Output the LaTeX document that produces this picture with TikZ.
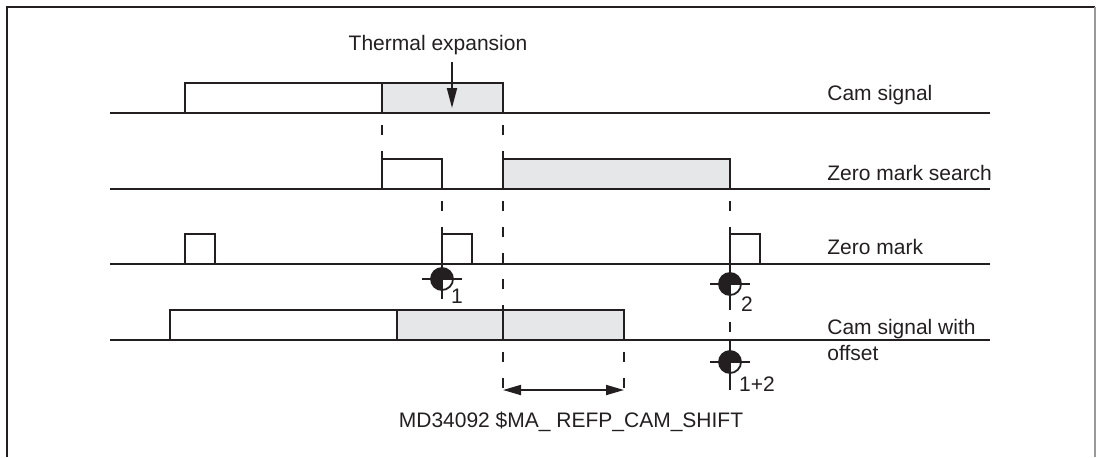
\documentclass[tikz,border=0pt]{standalone}
\usepackage{fontspec}
\setmainfont{Liberation Sans}
\usetikzlibrary{arrows.meta, positioning, calc}
\definecolor{ink}{HTML}{231F20}
\definecolor{shade}{HTML}{E6E7E8}
\tikzset{
    signal/.style={line width=0.9pt, draw=ink},
    pulse/.style={signal, fill=white},
    shifted/.style={signal, fill=shade},
    guide/.style={line width=0.9pt, draw=ink, dash pattern=on 5pt off 8pt, dash phase=7pt},
    sigtag/.style={font=\fontsize{10.5}{13}\selectfont, text=ink, inner sep=0pt, anchor=west, align=left},
    numtag/.style={font=\fontsize{10.5}{13}\selectfont, text=ink, inner sep=0pt},
    refpt/.style={circle, draw=ink, line width=0.9pt, fill=white, minimum size=11pt, inner sep=0pt,
        path picture={\fill[ink] (path picture bounding box.center) -- (path picture bounding box.south)
            -- (path picture bounding box.south west) -- (path picture bounding box.north west)
            -- (path picture bounding box.north east) -- (path picture bounding box.east) -- cycle;}},
    arrow/.style={-{Triangle[length=10pt, width=5pt]}, line width=0.9pt, draw=ink},
    dimarrow/.style={{Triangle[length=9pt, width=5pt]}-{Triangle[length=9pt, width=5pt]}, line width=0.9pt, draw=ink}
}

\begin{document}
\begin{tikzpicture}[x=0.5pt, y=-0.5pt]
    \useasboundingbox (0,0) rectangle (1104,457);
    % frame
    \draw[ink, line width=1.3pt] (7,457) -- (7,7) -- (1095,7);
    \draw[black!40, line width=0.8pt] (1095,7) -- (1095,457);

    % cam signal
    \draw[signal] (110,113) -- (990,113);
    \draw[pulse] (185,113) rectangle (382,83);
    \draw[shifted] (382,113) rectangle (503,83);
    % zero mark search
    \draw[signal] (110,189) -- (990,189);
    \draw[pulse] (382,189) rectangle (442,159);
    \draw[shifted] (503,189) rectangle (730,159);
    % zero mark
    \draw[signal] (110,264) -- (990,264);
    \draw[pulse] (185,264) rectangle (215,234);
    \draw[pulse] (442,264) rectangle (472,234);
    \draw[pulse] (730,264) rectangle (760,234);
    % cam signal with offset
    \draw[signal] (110,340) -- (990,340);
    \draw[pulse] (170,340) rectangle (397,310);
    \draw[shifted] (397,340) rectangle (503,310);
    \draw[shifted] (503,340) rectangle (624,310);

    \node (camsig) [sigtag] at (827,95) {Cam signal};
    \node (zmsearch) [sigtag] at (827,173) {Zero mark search};
    \node (zmark) [sigtag] at (827,247) {Zero mark};
    \node (camoff) [sigtag] at (827,340) {Cam signal with\\offset};

    % thermal expansion
    \node (thermal) [numtag] at (438,45) {Thermal expansion};
    \coordinate (thTop) at (452,62);
    \coordinate (thTip) at (452,108);
    \draw[arrow] (thTop) -- (thTip);

    % guide lines
    \coordinate (edgeA) at (382,113);
    \coordinate (edgeB) at (503,113);
    \draw[guide] (edgeA) -- (382,159);
    \draw[guide] (edgeB) -- (503,159);
    \draw[guide] (503,189) -- (503,310);
    \draw[guide] (503,340) -- (503,397);
    \draw[guide] (624,340) -- (624,397);
    \draw[guide] (442,189) -- (442,234);
    \draw[guide] (730,189) -- (730,234);
    \draw[guide] (730,310) -- (730,340);

    % reference points
    \node (ref1) [refpt] at (442,279) {};
    \draw[signal] (442,228) -- ([yshift=-10pt]ref1.center);
    \draw[signal] ([xshift=-10pt]ref1.center) -- ([xshift=10pt]ref1.center);
    \node (num1) [numtag] at (457,296) {1};

    \node (ref2) [refpt] at (730,284) {};
    \draw[signal] (730,264) -- ([yshift=-13pt]ref2.center);
    \draw[signal] ([xshift=-10pt]ref2.center) -- ([xshift=10pt]ref2.center);
    \node (num2) [numtag] at (747,304) {2};

    \node (ref3) [refpt] at (730,362) {};
    \draw[signal] (730,340) -- ([yshift=-14pt]ref3.center);
    \draw[signal] ([xshift=-10pt]ref3.center) -- ([xshift=10pt]ref3.center);
    \node (num3) [numtag] at (757,384) {1+2};

    % cam shift
    \coordinate (shiftL) at (503,390);
    \coordinate (shiftR) at (624,390);
    \draw[dimarrow] (shiftL) -- (shiftR);
    \node (shift) [numtag] at (571,422) {MD34092 \$MA\_ REFP\_CAM\_SHIFT};
\end{tikzpicture}
\end{document}
